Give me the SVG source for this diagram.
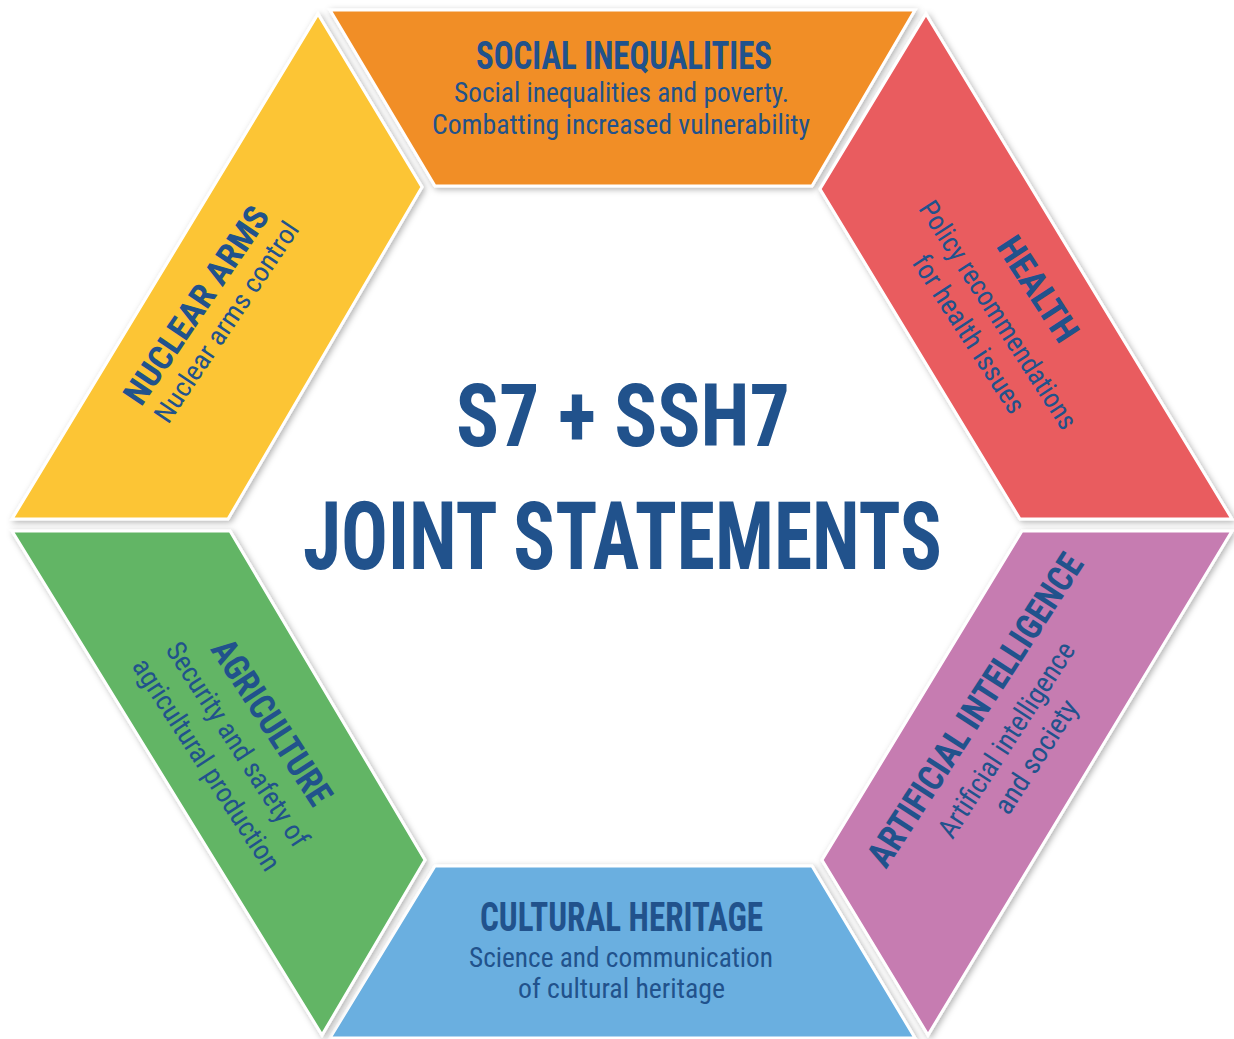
<svg xmlns="http://www.w3.org/2000/svg" width="1234" height="1039" viewBox="0 0 1234 1039">
<defs>
<filter id="sh" x="-10%" y="-10%" width="120%" height="120%">
<feDropShadow dx="2" dy="2" stdDeviation="3" flood-color="#000" flood-opacity="0.3"/>
</filter>
<style>
.seg{stroke:#fff;stroke-width:3;stroke-linejoin:miter;filter:url(#sh)}
.t{font-family:Roboto,"Liberation Sans",sans-serif;font-weight:700;fill:#21528C;text-anchor:middle;font-stretch:condensed}
.s{font-family:Roboto,"Liberation Sans",sans-serif;font-weight:400;fill:#21528C;text-anchor:middle;font-stretch:condensed}
.c{font-family:Roboto,"Liberation Sans",sans-serif;font-weight:700;fill:#21528C;text-anchor:middle;font-stretch:condensed}
</style>
</defs>
<rect width="1234" height="1039" fill="#fff"/>

<g id="social-inequalities">
<polygon class="seg" fill="#F18E28" points="330,10 915,10 812,186 435,186"/>
<text class="t" x="624" y="69" font-size="39" textLength="296" lengthAdjust="spacingAndGlyphs">SOCIAL INEQUALITIES</text>
<text class="s" x="621.5" y="102" font-size="28" textLength="335" lengthAdjust="spacingAndGlyphs">Social inequalities and poverty.</text>
<text class="s" x="621" y="134" font-size="28" textLength="378" lengthAdjust="spacingAndGlyphs">Combatting increased vulnerability</text>
</g>

<g id="health">
<polygon class="seg" fill="#E95B5F" points="926,14 1232,519 1020,519 820,189"/>
<g transform="translate(1038,289) rotate(57)">
<text class="t" x="0" y="12.5" font-size="36" textLength="118" lengthAdjust="spacingAndGlyphs">HEALTH</text>
<text class="s" x="0" y="57" font-size="28" textLength="266" lengthAdjust="spacingAndGlyphs">Policy recommendations</text>
<text class="s" x="0" y="92" font-size="28" textLength="183" lengthAdjust="spacingAndGlyphs">for health issues</text>
</g>
</g>

<g id="artificial-intelligence">
<polygon class="seg" fill="#C67BB1" points="1022,531 1232,531 928,1035 822,860"/>
<g transform="translate(975,710) rotate(-57)">
<text class="t" x="0" y="12.5" font-size="36" textLength="365" lengthAdjust="spacingAndGlyphs">ARTIFICIAL INTELLIGENCE</text>
<text class="s" x="-8" y="52" font-size="28" textLength="227" lengthAdjust="spacingAndGlyphs">Artificial intelligence</text>
<text class="s" x="-6" y="86" font-size="28" textLength="130" lengthAdjust="spacingAndGlyphs">and society</text>
</g>
</g>

<g id="cultural-heritage">
<polygon class="seg" fill="#6AAFE0" points="435,866 812,866 915,1038 330,1038"/>
<text class="t" x="621.5" y="931" font-size="40" textLength="283" lengthAdjust="spacingAndGlyphs">CULTURAL HERITAGE</text>
<text class="s" x="621" y="967" font-size="28" textLength="304" lengthAdjust="spacingAndGlyphs">Science and communication</text>
<text class="s" x="621.5" y="998" font-size="28" textLength="207" lengthAdjust="spacingAndGlyphs">of cultural heritage</text>
</g>

<g id="agriculture">
<polygon class="seg" fill="#62B565" points="12,531 230,531 425,860 322,1035"/>
<g transform="translate(272,722) rotate(57)">
<text class="t" x="0" y="12.5" font-size="36" textLength="190" lengthAdjust="spacingAndGlyphs">AGRICULTURE</text>
<text class="s" x="0" y="50.5" font-size="28" textLength="238" lengthAdjust="spacingAndGlyphs">Security and safety of</text>
<text class="s" x="0" y="87.5" font-size="28" textLength="247" lengthAdjust="spacingAndGlyphs">agricultural production</text>
</g>
</g>

<g id="nuclear-arms">
<polygon class="seg" fill="#FCC534" points="318,14 422,187 228,519 12,519"/>
<g transform="translate(196,305) rotate(-56)">
<text class="t" x="0" y="12" font-size="34" textLength="231" lengthAdjust="spacingAndGlyphs">NUCLEAR ARMS</text>
<text class="s" x="3" y="44" font-size="27" textLength="236" lengthAdjust="spacingAndGlyphs">Nuclear arms control</text>
</g>
</g>

<g id="center">
<text class="c" x="623" y="446" font-size="88" textLength="334" lengthAdjust="spacingAndGlyphs">S7 + SSH7</text>
<text class="c" x="622.5" y="569" font-size="94" textLength="639" lengthAdjust="spacingAndGlyphs">JOINT STATEMENTS</text>
</g>

<g id="connectors"/>
</svg>
